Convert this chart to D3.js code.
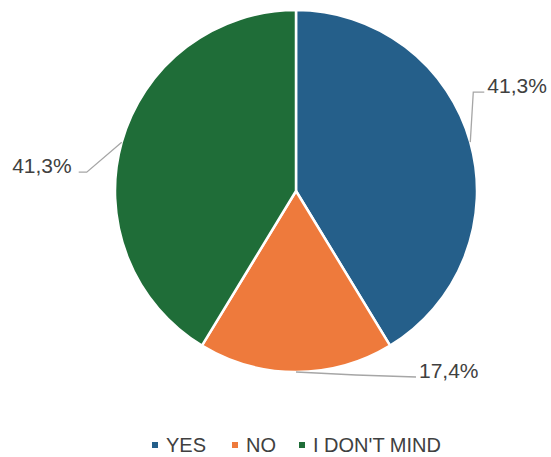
<!DOCTYPE html>
<html>
<head>
<meta charset="utf-8">
<script src="https://cdn.jsdelivr.net/npm/d3@7"></script>
<style>
  html, body { margin: 0; padding: 0; background: #fff; }
  svg { display: block; font-family: "Liberation Sans", Arial, Helvetica, sans-serif; }
</style>
</head>
<body>
<svg id="chart" width="551" height="457"></svg>
<script>
// Survey answers and their shares (percent)
const categories = ["YES", "NO", "I DON'T MIND"];
const values = [41.3, 17.4, 41.3];
const colors = ["#255f8a", "#ee7a3c", "#1f6d38"];

const svg = d3.select("#chart");
const cx = 296, cy = 191, radius = 181;

const pie = d3.pie().sort(null).value(d => d.value);
const arcs = pie(categories.map((c, i) => ({ name: c, value: values[i], color: colors[i] })));
const arc = d3.arc().innerRadius(0).outerRadius(radius);

const g = svg.append("g").attr("transform", `translate(${cx},${cy})`);

g.selectAll("path.slice")
  .data(arcs)
  .join("path")
  .attr("class", "slice")
  .attr("d", arc)
  .attr("fill", d => d.data.color)
  .attr("stroke", "#ffffff")
  .attr("stroke-width", 2.5)
  .attr("stroke-linejoin", "round");

// Leader lines: start on the rim at the slice mid-angle, bend, then run to the label
const fmt = v => d3.format(".1f")(v).replace(".", ",") + "%";
const rimPoint = d => {
  const a = (d.startAngle + d.endAngle) / 2;
  return [radius * Math.sin(a), -radius * Math.cos(a)];
};
// per-slice elbow and end offsets relative to the rim point
const leader = [
  { elbow: [3, -50], end: [14, -50], anchor: "start" },
  { elbow: [60, 3], end: [120, 5], anchor: "start" },
  { elbow: [-35, 30], end: [-43, 30], anchor: "end" }
];

arcs.forEach((d, i) => {
  const p = rimPoint(d);
  const L = leader[i];
  const e = [p[0] + L.elbow[0], p[1] + L.elbow[1]];
  const t = [p[0] + L.end[0], p[1] + L.end[1]];
  g.append("path")
    .attr("d", d3.line()([p, e, t]))
    .attr("fill", "none")
    .attr("stroke", "#a6a6a6")
    .attr("stroke-width", 1.3);
  g.append("text")
    .attr("x", t[0] + (L.anchor === "start" ? 3 : -7))
    .attr("y", t[1] + 1)
    .attr("text-anchor", L.anchor)
    .attr("font-size", 21)
    .attr("fill", "#404040")
    .text(fmt(d.data.value));
});

// Legend along the bottom
const legendY = 445;
const legendX = [152, 232, 299];
const legend = svg.append("g");
categories.forEach((c, i) => {
  const lx = legendX[i];
  legend.append("rect")
    .attr("x", lx)
    .attr("y", legendY - 3)
    .attr("width", 6)
    .attr("height", 6)
    .attr("fill", colors[i]);
  legend.append("text")
    .attr("x", lx + 14)
    .attr("y", legendY)
    .attr("dy", "0.35em")
    .attr("font-size", 20)
    .attr("fill", "#404040")
    .text(c);
});
</script>
</body>
</html>
